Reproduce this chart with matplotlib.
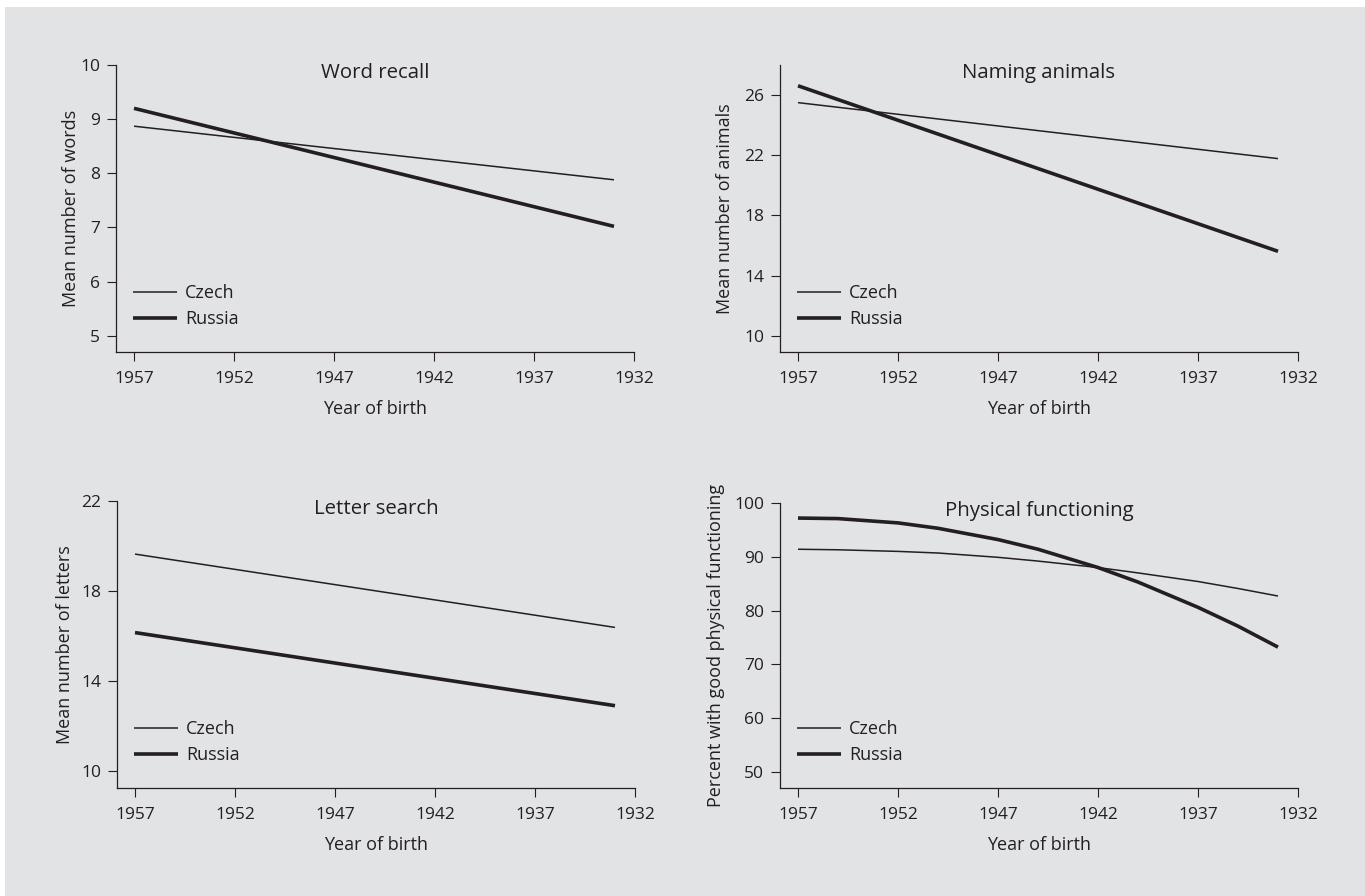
import numpy as np
import matplotlib
matplotlib.use("Agg")
import matplotlib.pyplot as plt
from matplotlib.patches import Rectangle

plt.rcParams['font.family'] = ['Open Sans', 'DejaVu Sans']

ink = '#231f20'
bg = '#e2e3e5'

# data
line_years = [1957, 1933]
word_czech = [8.87, 7.88]
word_russia = [9.20, 7.02]
animals_czech = [25.50, 21.78]
animals_russia = [26.62, 15.62]
letters_czech = [19.64, 16.38]
letters_russia = [16.15, 12.90]

phys_years = [1957, 1955, 1952, 1950, 1947, 1945, 1942, 1940, 1937, 1935, 1933]
phys_czech = [91.4, 91.3, 91.0, 90.7, 89.9, 89.2, 88.0, 87.0, 85.4, 84.1, 82.7]
phys_russia = [97.2, 97.1, 96.3, 95.3, 93.2, 91.4, 88.0, 85.3, 80.6, 77.1, 73.2]

x_ticks = [1957, 1952, 1947, 1942, 1937, 1932]

panels = [
    dict(title='Word recall', ylabel='Mean number of words',
         x=line_years, czech=word_czech, russia=word_russia,
         yticks=[5, 6, 7, 8, 9, 10], ylim=(4.7, 10),
         box=(116, 65, 352), ylx=71),
    dict(title='Naming animals', ylabel='Mean number of animals',
         x=line_years, czech=animals_czech, russia=animals_russia,
         yticks=[10, 14, 18, 22, 26], ylim=(8.93, 28),
         box=(780, 65, 352), ylx=725),
    dict(title='Letter search', ylabel='Mean number of letters',
         x=line_years, czech=letters_czech, russia=letters_russia,
         yticks=[10, 14, 18, 22], ylim=(9.24, 22),
         box=(117, 501, 788), ylx=65),
    dict(title='Physical functioning', ylabel='Percent with good physical functioning',
         x=phys_years, czech=phys_czech, russia=phys_russia,
         yticks=[50, 60, 70, 80, 90, 100], ylim=(47, 100),
         box=(780, 503, 788), ylx=716),
]

W, H = 1365, 896
fig = plt.figure(figsize=(W / 100, H / 100), dpi=100)
fig.patch.set_facecolor('white')
fig.patches.append(Rectangle((5 / W, 0), 1, 1 - 7 / H, transform=fig.transFigure,
                             facecolor=bg, edgecolor='none', zorder=-10))

aw = 518
for p in panels:
    left, top, bottom = p['box']
    ah = bottom - top
    ax = fig.add_axes([left / W, (H - bottom) / H, aw / W, ah / H])
    ax.set_facecolor('none')
    ax.plot(p['x'], p['czech'], color=ink, lw=1.1, label='Czech', solid_capstyle='butt')
    ax.plot(p['x'], p['russia'], color=ink, lw=2.6, label='Russia', solid_capstyle='butt')
    ax.set_xlim(1957.9, 1932)
    ax.set_ylim(*p['ylim'])
    ax.set_xticks(x_ticks)
    ax.set_yticks(p['yticks'])
    for s in ['top', 'right']:
        ax.spines[s].set_visible(False)
    for s in ['left', 'bottom']:
        ax.spines[s].set_color(ink)
        ax.spines[s].set_linewidth(0.9)
    ax.tick_params(direction='out', length=6.5, width=0.8, color=ink,
                   labelcolor=ink, labelsize=12.5, pad=5)
    ax.tick_params(axis='x', pad=7.5)
    ax.text(0.5, 1 - 8 / ah, p['title'], transform=ax.transAxes,
            ha='center', va='center', fontsize=14.7, color=ink)
    ax.set_xlabel('Year of birth', fontsize=13, color=ink)
    ax.xaxis.set_label_coords(0.5, -57 / ah)
    ax.xaxis.label.set_verticalalignment('center')
    ax.set_ylabel(p['ylabel'], fontsize=13, color=ink)
    ax.yaxis.set_label_coords((p['ylx'] - left) / aw, 0.5)
    ax.yaxis.label.set_verticalalignment('center')
    leg = ax.legend(loc='lower left', bbox_to_anchor=(17 / aw, 24 / ah),
                    frameon=False, fontsize=13, handlelength=2.45,
                    handletextpad=0.45, labelspacing=0.42, borderpad=0,
                    borderaxespad=0)
    for t in leg.get_texts():
        t.set_color(ink)

fig.savefig('out.png', dpi=100, facecolor=fig.get_facecolor())
